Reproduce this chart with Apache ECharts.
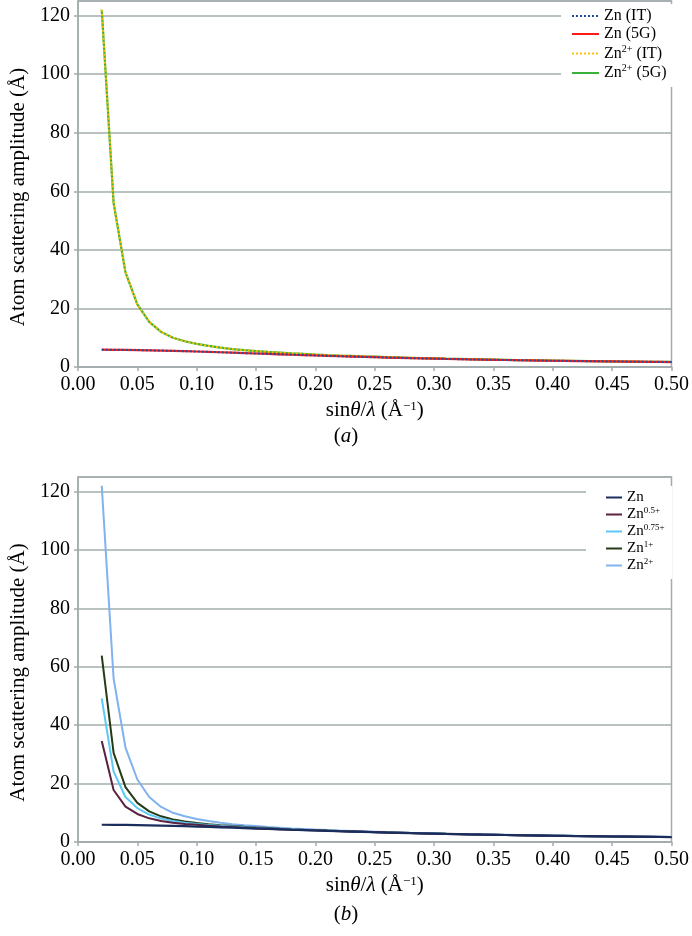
<!DOCTYPE html>
<html>
<head>
<meta charset="utf-8">
<script src="https://cdn.jsdelivr.net/npm/echarts@6/dist/echarts.min.js"></script>
<style>html,body{margin:0;padding:0;background:#fff}#c{width:692px;height:936px}</style>
</head>
<body>
<div id="c"></div>
<script>
var sValues = [0.02,0.03,0.04,0.05,0.06,0.07,0.08,0.09,0.10,0.11,0.12,0.13,0.14,0.15,0.16,0.17,0.18,0.19,0.20,
  0.21,0.22,0.23,0.24,0.25,0.26,0.27,0.28,0.29,0.30,0.31,0.32,0.33,0.34,0.35,0.36,0.37,0.38,0.39,0.40,
  0.41,0.42,0.43,0.44,0.45,0.46,0.47,0.48,0.49,0.50];
var xTicks = ['0.00','0.05','0.10','0.15','0.20','0.25','0.30','0.35','0.40','0.45','0.50'];
var yTicks = [0,20,40,60,80,100,120];

var zn = [5.9,5.88,5.84,5.78,5.71,5.62,5.52,5.41,5.29,5.16,5.03,4.89,4.75,4.61,4.47,4.33,4.19,4.06,3.93,
  3.80,3.68,3.56,3.45,3.34,3.23,3.13,3.03,2.94,2.85,2.76,2.68,2.60,2.53,2.46,2.39,2.32,2.26,2.20,2.14,
  2.09,2.04,1.99,1.94,1.89,1.85,1.81,1.77,1.73,1.69];
var zn05 = [34.6,17.8,12.1,9.6,8.1,7.2,6.6,6.2,5.9,5.6,5.35,5.12,4.92,4.73,4.55,4.38,4.22,4.07,3.96,
  3.83,3.71,3.59,3.47,3.36,3.25,3.15,3.05,2.95,2.86,2.77,2.69,2.61,2.53,2.46,2.39,2.33,2.26,2.20,2.15,
  2.09,2.04,1.99,1.95,1.90,1.86,1.81,1.77,1.73,1.69];
var zn075 = [49.2,24.1,15.4,11.6,9.4,8.0,7.2,6.6,6.2,5.85,5.55,5.28,5.05,4.85,4.66,4.47,4.3,4.14,3.99,
  3.86,3.73,3.61,3.50,3.38,3.27,3.16,3.06,2.96,2.87,2.78,2.70,2.62,2.54,2.47,2.40,2.33,2.27,2.21,2.15,
  2.10,2.05,2.00,1.95,1.90,1.86,1.82,1.78,1.74,1.70];
var zn1 = [63.8,30.5,18.8,13.4,10.5,8.8,7.7,7.0,6.5,6.1,5.75,5.45,5.2,4.98,4.78,4.58,4.4,4.23,4.07,
  3.93,3.80,3.67,3.55,3.43,3.31,3.20,3.09,2.99,2.90,2.81,2.72,2.64,2.56,2.49,2.42,2.35,2.28,2.22,2.16,
  2.11,2.06,2.01,1.96,1.91,1.87,1.83,1.79,1.75,1.71];
var zn2 = [122,56,32.3,21.4,15.4,12.0,10.0,8.8,7.9,7.2,6.6,6.1,5.75,5.45,5.15,4.9,4.65,4.45,4.25,
  4.08,3.93,3.79,3.65,3.52,3.39,3.27,3.16,3.06,2.96,2.86,2.77,2.68,2.60,2.52,2.45,2.38,2.31,2.25,2.19,
  2.13,2.08,2.03,1.98,1.93,1.88,1.84,1.80,1.76,1.72];
// panel (a): International Tables vs 5-Gaussian fits (coincident within plotting precision)
var znIT = zn, zn5G = zn, zn2IT = zn2, zn2G = zn2;

function pairs(arr){ return sValues.map(function(s,i){ return [s, arr[i]]; }); }

var FONT = '"Liberation Serif", "Times New Roman", serif';
var GRID_C = '#a2acac';
var rich = {
  n: {fontFamily: FONT, fontSize: 16, color: '#000', lineHeight: 19},
  sup: {fontFamily: FONT, fontSize: 10, color: '#000', verticalAlign: 'top', lineHeight: 10},
  nb: {fontFamily: FONT, fontSize: 15, color: '#000', lineHeight: 17},
  supb: {fontFamily: FONT, fontSize: 9, color: '#000', verticalAlign: 'top', lineHeight: 9},
  it: {fontFamily: FONT, fontSize: 21, fontStyle: 'italic', color: '#000'},
  t: {fontFamily: FONT, fontSize: 21, color: '#000'},
  tsup: {fontFamily: FONT, fontSize: 13, color: '#000', verticalAlign: 'top', lineHeight: 12},
  v: {fontFamily: FONT, fontSize: 20, color: '#000'}
};
var legendFmtA = {
  'Zn (IT)': '{n|Zn (IT)}',
  'Zn (5G)': '{n|Zn (5G)}',
  'Zn2+ (IT)': '{n|Zn}{sup|2+}{n| (IT)}',
  'Zn2+ (5G)': '{n|Zn}{sup|2+}{n| (5G)}'
};
var legendFmtB = {
  'Zn': '{nb|Zn}',
  'Zn0.5+': '{nb|Zn}{supb|0.5+}',
  'Zn0.75+': '{nb|Zn}{supb|0.75+}',
  'Zn1+': '{nb|Zn}{supb|1+}',
  'Zn2+': '{nb|Zn}{supb|2+}'
};

function xAxis(gi){
  return {
    type: 'value', gridIndex: gi, min: 0, max: 0.5, interval: 0.05,
    name: '{t|sin}{it|θ}{t|/}{it|λ}{t| (Å}{tsup|−1}{t|)}',
    nameLocation: 'middle', nameGap: 33,
    nameTextStyle: {rich: rich, fontFamily: FONT},
    axisLine: {show: true, onZero: false, lineStyle: {color: GRID_C, width: 1.5}},
    axisTick: {show: true, length: 4, lineStyle: {color: GRID_C, width: 1.5}},
    splitLine: {show: false},
    axisLabel: {fontFamily: FONT, fontSize: 20, color: '#000', margin: 8, rich: rich,
      formatter: function(v){ var i = Math.round(v/0.05); return xTicks[i] !== undefined ? '{v|' + xTicks[i] + '}' : ''; }}
  };
}
function yAxis(gi){
  return {
    type: 'value', gridIndex: gi, min: 0, max: 125, interval: 20,
    name: 'Atom scattering amplitude (Å)',
    nameLocation: 'middle', nameGap: 49,
    nameTextStyle: {fontFamily: FONT, fontSize: 21, color: '#000', padding: [0, 26, 0, 0]},
    axisLine: {show: true, lineStyle: {color: GRID_C, width: 1.5}},
    axisTick: {show: true, length: 4, lineStyle: {color: GRID_C, width: 1.5}},
    splitLine: {show: true, lineStyle: {color: GRID_C, width: 1.5}},
    axisLabel: {fontFamily: FONT, fontSize: 20, color: '#000', margin: 8, showMaxLabel: false, rich: rich,
      formatter: function(v){ return yTicks.indexOf(v) >= 0 ? '{v|' + v + '}' : ''; }}
  };
}
function line(name, data, color, type, gi, w){
  return {
    name: name, type: 'line', xAxisIndex: gi, yAxisIndex: gi, data: pairs(data),
    symbol: 'none', smooth: false, animation: false,
    lineStyle: {color: color, width: w || 2, type: type || 'solid'},
    itemStyle: {color: color}
  };
}

var chart = echarts.init(document.getElementById('c'), null, {renderer: 'canvas'});
chart.setOption({
  backgroundColor: '#fff',
  animation: false,
  textStyle: {fontFamily: FONT},
  grid: [
    {left: 70, right: 20, top: 1, height: 366, show: true, borderColor: GRID_C, borderWidth: 1.5, containLabel: false},
    {left: 70, right: 20, top: 477, height: 365, show: true, borderColor: GRID_C, borderWidth: 1.5, containLabel: false}
  ],
  xAxis: [xAxis(0), xAxis(1)],
  yAxis: [yAxis(0), yAxis(1)],
  legend: [
    {
      data: ['Zn (IT)', 'Zn (5G)', 'Zn2+ (IT)', 'Zn2+ (5G)'],
      orient: 'vertical', left: 561, top: 4, itemWidth: 27, itemHeight: 12, itemGap: 2,
      padding: [4, 8, 6, 10], backgroundColor: '#fff',
      itemStyle: {opacity: 0},
      formatter: function(n){ return legendFmtA[n]; },
      textStyle: {rich: rich, fontFamily: FONT}
    },
    {
      data: ['Zn', 'Zn0.5+', 'Zn0.75+', 'Zn1+', 'Zn2+'],
      orient: 'vertical', left: 586, top: 486, itemWidth: 16, itemHeight: 10, itemGap: 1,
      padding: [4, 8, 6, 19], backgroundColor: '#fff',
      itemStyle: {opacity: 0},
      formatter: function(n){ return legendFmtB[n]; },
      textStyle: {rich: rich, fontFamily: FONT}
    }
  ],
  series: [
    line('Zn2+ (5G)', zn2G, '#3bb03a', 'solid', 0, 2.2),
    line('Zn2+ (IT)', zn2IT, '#ffc000', 'dotted', 0, 2),
    line('Zn (5G)', zn5G, '#ff1a1a', 'solid', 0, 2.2),
    line('Zn (IT)', znIT, '#1f4f9a', 'dotted', 0, 2),
    line('Zn2+', zn2, '#7fb2ee', 'solid', 1, 2),
    line('Zn1+', zn1, '#253a16', 'solid', 1, 2),
    line('Zn0.75+', zn075, '#5cc8f4', 'solid', 1, 2),
    line('Zn0.5+', zn05, '#5a2140', 'solid', 1, 2),
    line('Zn', zn, '#1b2d5c', 'solid', 1, 2.2)
  ],
  graphic: [
    {type: 'text', left: 'center', top: 426, style: {text: '{t|(}{it|a}{t|)}', rich: rich}},
    {type: 'text', left: 'center', top: 904, style: {text: '{t|(}{it|b}{t|)}', rich: rich}}
  ]
});
</script>
</body>
</html>
